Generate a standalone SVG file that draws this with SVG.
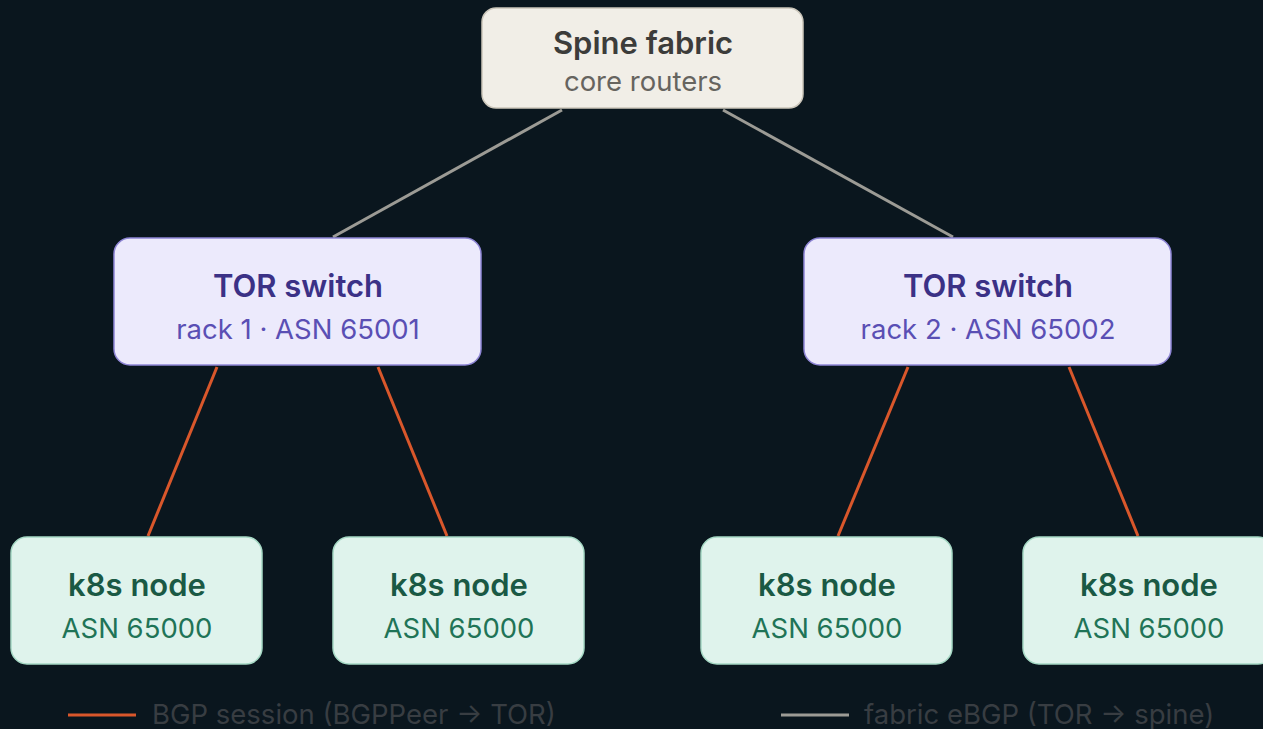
<svg xmlns="http://www.w3.org/2000/svg" width="1263" height="729" viewBox="0 0 1263 729">
  <style>
    text { font-family: Inter, "Noto Sans", "Liberation Sans", sans-serif; text-anchor: middle; }
    .title { font-size: 31px; font-weight: 560; }
    .sub { font-size: 27.5px; font-weight: 400; }
    .spine rect { fill: #f1eee7; stroke: #cbc6ba; stroke-width: 1.5; }
    .spine .title { fill: #3c3c3a; }
    .spine .sub { fill: #66645f; }
    .tor rect { fill: #eceafc; stroke: #8f86d6; stroke-width: 1.5; }
    .tor .title { fill: #3b3186; }
    .tor .sub { fill: #5a4fb4; }
    .k8s rect { fill: #dff3ec; stroke: #a6d9c5; stroke-width: 1.5; }
    .k8s .title { fill: #1a5944; }
    .k8s .sub { fill: #1f7457; }
    .bgp { stroke: #d9572b; stroke-width: 3; fill: none; }
    .fabric { stroke: #9c9b95; stroke-width: 3; fill: none; }
    .legend { font-size: 27.5px; fill: #383d42; text-anchor: start; }
  </style>

  <!-- backdrop -->
  <rect width="1263" height="729" fill="#0a161e"/>

  <!-- links -->
  <g id="connectors">
    <line class="fabric" x1="562" y1="110" x2="333" y2="237"/>
    <line class="fabric" x1="723" y1="110" x2="953" y2="237"/>
    <line class="bgp" x1="217" y1="367" x2="148" y2="536"/>
    <line class="bgp" x1="378" y1="367" x2="447" y2="536"/>
    <line class="bgp" x1="908" y1="367" x2="838" y2="536"/>
    <line class="bgp" x1="1069" y1="367" x2="1138" y2="536"/>
  </g>

  <g id="spine" class="spine">
    <rect x="482" y="8" width="321" height="100" rx="14"/>
    <text class="title" x="643" y="54">Spine fabric</text>
    <text class="sub" x="643" y="91">core routers</text>
  </g>

  <g id="tor1" class="tor">
    <rect x="114" y="238" width="367" height="127" rx="16"/>
    <text class="title" x="298" y="297">TOR switch</text>
    <text class="sub" x="298" y="339">rack 1 · ASN 65001</text>
  </g>

  <g id="tor2" class="tor">
    <rect x="804" y="238" width="367" height="127" rx="16"/>
    <text class="title" x="988" y="297">TOR switch</text>
    <text class="sub" x="988" y="339">rack 2 · ASN 65002</text>
  </g>

  <g id="node1" class="k8s">
    <rect x="11" y="537" width="251" height="127" rx="16"/>
    <text class="title" x="137" y="596">k8s node</text>
    <text class="sub" x="137" y="638">ASN 65000</text>
  </g>

  <g id="node2" class="k8s">
    <rect x="333" y="537" width="251" height="127" rx="16"/>
    <text class="title" x="459" y="596">k8s node</text>
    <text class="sub" x="459" y="638">ASN 65000</text>
  </g>

  <g id="node3" class="k8s">
    <rect x="701" y="537" width="251" height="127" rx="16"/>
    <text class="title" x="827" y="596">k8s node</text>
    <text class="sub" x="827" y="638">ASN 65000</text>
  </g>

  <g id="node4" class="k8s">
    <rect x="1023" y="537" width="251" height="127" rx="16"/>
    <text class="title" x="1149" y="596">k8s node</text>
    <text class="sub" x="1149" y="638">ASN 65000</text>
  </g>

  <g id="legend">
    <line class="bgp" x1="68" y1="715" x2="136" y2="715"/>
    <text class="legend" x="152" y="724">BGP session (BGPPeer → TOR)</text>
    <line class="fabric" x1="781" y1="715" x2="849" y2="715"/>
    <text class="legend" x="864" y="724">fabric eBGP (TOR → spine)</text>
  </g>
</svg>
